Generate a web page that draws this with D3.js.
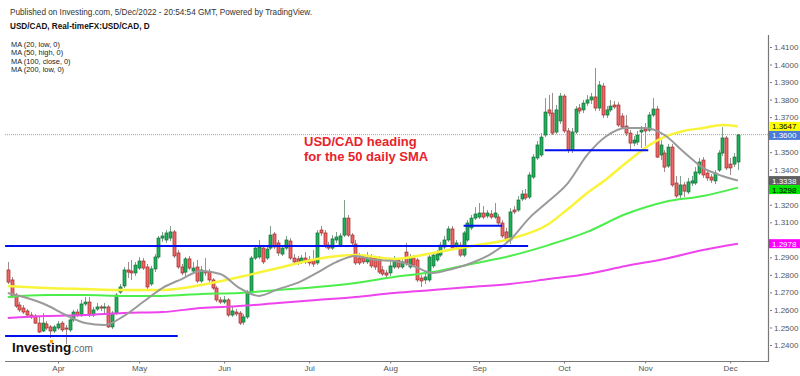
<!DOCTYPE html>
<html>
<head>
<meta charset="utf-8">
<script src="https://cdn.jsdelivr.net/npm/d3@7"></script>
<style>
  body { margin: 0; background: #fff; }
  svg { display: block; font-family: Arial, "Liberation Sans", sans-serif; }
</style>
</head>
<body>
<div id="chart"></div>
<script>
// Daily USD/CAD candles, 15 Mar 2022 .. 5 Dec 2022 (index 0 .. 189)
const opens = [
  1.2828,1.2771,1.2680,1.2628,1.2611,1.2594,1.2571,1.2565,1.2525,1.2480,
  1.2520,1.2503,1.2480,1.2497,1.2525,1.2497,1.2486,1.2543,1.2588,1.2571,
  1.2634,1.2645,1.2571,1.2605,1.2617,1.2611,1.2617,1.2503,1.2582,1.2702,
  1.2737,1.2828,1.2822,1.2811,1.2839,1.2879,1.2845,1.2748,1.2834,1.2902,
  1.3010,1.2999,1.3010,1.3045,1.2925,1.2845,1.2816,1.2891,1.2822,1.2845,
  1.2765,1.2822,1.2816,1.2771,1.2725,1.2657,1.2645,1.2657,1.2571,1.2588,
  1.2582,1.2531,1.2560,1.2697,1.2896,1.2902,1.2953,1.2896,1.2953,1.3033,
  1.2982,1.2919,1.2953,1.2993,1.2896,1.2891,1.2874,1.2896,1.2885,1.2885,
  1.2868,1.3056,1.3039,1.2970,1.2953,1.2999,1.2970,1.3027,1.3124,1.3027,
  1.2976,1.2896,1.2896,1.2874,1.2902,1.2896,1.2891,1.2828,1.2811,1.2811,
  1.2845,1.2885,1.2845,1.2930,1.2845,1.2896,1.2885,1.2782,1.2771,1.2771,
  1.2851,1.2885,1.2913,1.2959,1.2999,1.3062,1.2959,1.2970,1.2913,1.2999,
  1.3068,1.3124,1.3130,1.3153,1.3136,1.3147,1.3130,1.3130,1.3096,1.3045,
  1.2999,1.3170,1.3170,1.3233,1.3261,1.3244,1.3358,1.3467,1.3484,1.3598,
  1.3741,1.3723,1.3615,1.3678,1.3820,1.3621,1.3512,1.3615,1.3752,1.3741,
  1.3780,1.3798,1.3815,1.3752,1.3877,1.3712,1.3741,1.3769,1.3769,1.3706,
  1.3649,1.3609,1.3552,1.3558,1.3615,1.3632,1.3626,1.3712,1.3746,1.3484,
  1.3495,1.3421,1.3529,1.3324,1.3256,1.3313,1.3273,1.3324,1.3324,1.3381,
  1.3455,1.3381,1.3358,1.3336,1.3398,1.3495,1.3581,1.3432,1.3432,1.3444
];
const highs = [
  1.2874,1.2788,1.2697,1.2645,1.2628,1.2605,1.2588,1.2577,1.2565,1.2582,
  1.2537,1.2514,1.2514,1.2537,1.2537,1.2514,1.2554,1.2600,1.2605,1.2657,
  1.2674,1.2674,1.2617,1.2640,1.2628,1.2640,1.2628,1.2594,1.2697,1.2748,
  1.2845,1.2874,1.2885,1.2874,1.2902,1.2896,1.2862,1.2851,1.2919,1.3022,
  1.3045,1.3056,1.3079,1.3056,1.2942,1.2862,1.2902,1.2908,1.2874,1.2885,
  1.2851,1.2896,1.2834,1.2782,1.2737,1.2674,1.2680,1.2668,1.2622,1.2605,
  1.2594,1.2577,1.2714,1.2908,1.2970,1.2999,1.2970,1.2965,1.3079,1.3045,
  1.2999,1.2965,1.3022,1.3010,1.2919,1.2908,1.2913,1.2930,1.2908,1.2942,
  1.3056,1.3079,1.3056,1.2988,1.3027,1.3045,1.3039,1.3227,1.3142,1.3039,
  1.2999,1.2925,1.2913,1.2930,1.2919,1.2908,1.2908,1.2851,1.2828,1.2874,
  1.2908,1.2896,1.2896,1.2982,1.2919,1.2913,1.2896,1.2799,1.2811,1.2913,
  1.2930,1.2942,1.2988,1.3022,1.3079,1.3079,1.2999,1.2988,1.3050,1.3113,
  1.3142,1.3187,1.3210,1.3193,1.3170,1.3170,1.3210,1.3147,1.3113,1.3068,
  1.3181,1.3193,1.3250,1.3284,1.3290,1.3387,1.3489,1.3564,1.3609,1.3809,
  1.3826,1.3838,1.3769,1.3838,1.3832,1.3638,1.3638,1.3763,1.3775,1.3798,
  1.3826,1.3838,1.3980,1.3906,1.3895,1.3763,1.3798,1.3792,1.3786,1.3723,
  1.3712,1.3626,1.3592,1.3621,1.3649,1.3666,1.3729,1.3809,1.3763,1.3569,
  1.3512,1.3547,1.3547,1.3364,1.3364,1.3330,1.3353,1.3364,1.3415,1.3467,
  1.3472,1.3398,1.3375,1.3398,1.3512,1.3643,1.3592,1.3467,1.3495,1.3604
];
const lows = [
  1.2748,1.2668,1.2611,1.2588,1.2577,1.2560,1.2548,1.2520,1.2468,1.2474,
  1.2486,1.2440,1.2468,1.2486,1.2474,1.2406,1.2474,1.2531,1.2560,1.2560,
  1.2622,1.2560,1.2560,1.2594,1.2594,1.2577,1.2497,1.2491,1.2571,1.2691,
  1.2725,1.2782,1.2771,1.2794,1.2828,1.2828,1.2719,1.2737,1.2816,1.2891,
  1.2988,1.2982,1.2993,1.2896,1.2834,1.2799,1.2794,1.2828,1.2811,1.2754,
  1.2754,1.2794,1.2754,1.2714,1.2645,1.2634,1.2634,1.2560,1.2560,1.2565,
  1.2514,1.2514,1.2548,1.2685,1.2885,1.2891,1.2862,1.2885,1.2942,1.2947,
  1.2908,1.2908,1.2942,1.2885,1.2862,1.2856,1.2862,1.2862,1.2851,1.2845,
  1.2856,1.3022,1.2953,1.2942,1.2942,1.2982,1.2959,1.3016,1.3016,1.2970,
  1.2856,1.2856,1.2862,1.2862,1.2839,1.2828,1.2805,1.2794,1.2782,1.2794,
  1.2834,1.2834,1.2834,1.2851,1.2834,1.2845,1.2759,1.2731,1.2748,1.2759,
  1.2839,1.2874,1.2902,1.2947,1.2988,1.2942,1.2942,1.2902,1.2902,1.2988,
  1.3056,1.3113,1.3119,1.3119,1.3124,1.3119,1.3119,1.3085,1.3010,1.2988,
  1.2976,1.3147,1.3159,1.3221,1.3227,1.3233,1.3347,1.3455,1.3472,1.3586,
  1.3706,1.3598,1.3604,1.3661,1.3609,1.3495,1.3495,1.3604,1.3718,1.3723,
  1.3763,1.3775,1.3735,1.3735,1.3695,1.3695,1.3729,1.3746,1.3643,1.3632,
  1.3592,1.3512,1.3535,1.3541,1.3524,1.3535,1.3615,1.3701,1.3467,1.3455,
  1.3387,1.3410,1.3301,1.3239,1.3233,1.3244,1.3261,1.3307,1.3313,1.3370,
  1.3353,1.3336,1.3324,1.3318,1.3387,1.3478,1.3398,1.3370,1.3415,1.3398
];
const closes = [
  1.2759,1.2674,1.2622,1.2600,1.2588,1.2571,1.2560,1.2525,1.2474,1.2525,
  1.2497,1.2480,1.2503,1.2520,1.2486,1.2491,1.2543,1.2588,1.2571,1.2634,
  1.2645,1.2571,1.2600,1.2617,1.2611,1.2617,1.2503,1.2582,1.2685,1.2731,
  1.2828,1.2816,1.2811,1.2856,1.2879,1.2839,1.2731,1.2834,1.2902,1.3010,
  1.3022,1.3039,1.3045,1.2908,1.2845,1.2811,1.2891,1.2839,1.2839,1.2765,
  1.2828,1.2811,1.2771,1.2725,1.2657,1.2645,1.2657,1.2571,1.2594,1.2577,
  1.2525,1.2560,1.2702,1.2896,1.2953,1.2959,1.2874,1.2947,1.3027,1.2959,
  1.2925,1.2953,1.2999,1.2896,1.2874,1.2868,1.2896,1.2874,1.2868,1.2862,
  1.3039,1.3039,1.2965,1.2953,1.3005,1.3016,1.3022,1.3124,1.3027,1.2982,
  1.2868,1.2868,1.2874,1.2896,1.2851,1.2845,1.2816,1.2805,1.2799,1.2851,
  1.2885,1.2845,1.2874,1.2868,1.2902,1.2856,1.2771,1.2765,1.2788,1.2902,
  1.2913,1.2919,1.2970,1.2999,1.3062,1.2953,1.2982,1.2913,1.3039,1.3096,
  1.3124,1.3147,1.3153,1.3130,1.3153,1.3130,1.3153,1.3096,1.3022,1.2999,
  1.3159,1.3159,1.3227,1.3261,1.3239,1.3370,1.3472,1.3541,1.3586,1.3729,
  1.3723,1.3609,1.3741,1.3820,1.3621,1.3512,1.3615,1.3746,1.3735,1.3780,
  1.3798,1.3815,1.3752,1.3883,1.3712,1.3741,1.3763,1.3758,1.3655,1.3643,
  1.3609,1.3552,1.3569,1.3598,1.3626,1.3621,1.3712,1.3746,1.3472,1.3541,
  1.3415,1.3529,1.3313,1.3250,1.3313,1.3278,1.3330,1.3336,1.3387,1.3444,
  1.3370,1.3353,1.3341,1.3381,1.3495,1.3581,1.3410,1.3410,1.3472,1.3598
];

// month labels and the candle index of each month's first session
const monthLabels = ["Apr", "May", "Jun", "Jul", "Aug", "Sep", "Oct", "Nov", "Dec"];
const monthIdx = [13, 34, 56, 78, 99, 122, 144, 165, 187];

// moving averages (candle index -> value)
const ma20Idx = [0,5,10,15,20,25,30,35,40,45,50,55,60,65,70,75,80,85,90,95,100,105,110,115,120,125,130,135,140,145,150,155,160,165,170,175,180,185,189];
const ma20Val = [1.2697,1.2668,1.2628,1.2571,1.2525,1.2514,1.2565,1.2645,1.2725,1.2776,1.2822,1.2805,1.2725,1.2680,1.2719,1.2754,1.2811,1.2873,1.2908,1.2885,1.2879,1.2851,1.2811,1.2834,1.2868,1.2919,1.2999,1.3124,1.3221,1.3324,1.3484,1.3592,1.3638,1.3638,1.3598,1.3501,1.3410,1.3364,1.3338];
const ma50Idx = [0,10,20,30,40,50,60,70,80,90,100,110,120,130,140,145,150,155,160,165,170,175,180,185,189];
const ma50Val = [1.2737,1.2725,1.2719,1.2714,1.2714,1.2742,1.2788,1.2839,1.2891,1.2913,1.2891,1.2925,1.2965,1.3005,1.3090,1.3176,1.3267,1.3347,1.3438,1.3524,1.3587,1.3621,1.3638,1.3655,1.3647];
const maLongIdx = [0,10,20,30,40,50,60,70,80,90,100,110,120,130,140,150,160,170,180,189];
const ma100Val = [1.2674,1.2685,1.2685,1.2680,1.2680,1.2691,1.2697,1.2714,1.2731,1.2754,1.2788,1.2816,1.2862,1.2908,1.2970,1.3045,1.3147,1.3216,1.3250,1.3298];
const ma200Val = [1.2554,1.2565,1.2571,1.2583,1.2588,1.2611,1.2622,1.2640,1.2657,1.2674,1.2697,1.2714,1.2731,1.2748,1.2776,1.2805,1.2851,1.2891,1.2942,1.2978];

// hand-drawn support / resistance levels (price, from index, to index)
const levelPrice = [1.2451, 1.2965, 1.3080, 1.3511];
const levelFrom = [-0.7, -0.7, 118, 139];
const levelTo = [44, 134.7, 128, 165.8];

// price axis ticks and last values (MA50, price, MA20, MA100, MA200)
const yTicks = d3.range(18).map(k => 1.24 + k * 0.01);
const lastValues = [1.3647, 1.3600, 1.3338, 1.3298, 1.2978];

const width = 800, height = 376;
const svg = d3.select("#chart").append("svg")
    .attr("width", width)
    .attr("height", height);

svg.append("rect").attr("width", width).attr("height", height).attr("fill", "#fff");

const x = d3.scaleLinear().domain([-0.725, 196.8]).range([5, 768]);
const y = d3.scaleLinear().domain([1.24, 1.41]).range([345, 47]);

svg.append("clipPath").attr("id", "plot")
  .append("rect").attr("x", 5).attr("y", 35).attr("width", 763).attr("height", 326);

const plot = svg.append("g").attr("clip-path", "url(#plot)");

// dotted last-price line
plot.append("line")
    .attr("x1", 5).attr("x2", 768)
    .attr("y1", y(1.36)).attr("y2", y(1.36))
    .attr("stroke", "#8aa4d8")
    .attr("stroke-width", 1)
    .attr("stroke-dasharray", "1,1");

// candles
const candles = d3.range(opens.length).map(i => ({
  i, o: opens[i], h: highs[i], l: lows[i], c: closes[i]
}));

const cg = plot.append("g");
cg.selectAll("line.wick")
  .data(candles)
  .enter().append("line")
    .attr("class", "wick")
    .attr("x1", d => Math.round(x(d.i)) + 0.5)
    .attr("x2", d => Math.round(x(d.i)) + 0.5)
    .attr("y1", d => y(d.h))
    .attr("y2", d => y(d.l))
    .attr("stroke", d => d.c >= d.o ? "#7f9e8c" : "#a08c8c")
    .attr("stroke-width", 1);

cg.selectAll("rect.body")
  .data(candles)
  .enter().append("rect")
    .attr("class", "body")
    .attr("x", d => Math.round(x(d.i)) - 1)
    .attr("width", 3)
    .attr("y", d => y(Math.max(d.o, d.c)))
    .attr("height", d => Math.max(1, y(Math.min(d.o, d.c)) - y(Math.max(d.o, d.c))))
    .attr("fill", d => d.c >= d.o ? "#1fb05a" : "#ef6666")
    .attr("stroke", d => d.c >= d.o ? "#156b38" : "#9c2a2a")
    .attr("stroke-width", 0.7);

// moving averages
const line = d3.line().curve(d3.curveMonotoneX);
function drawMA(idx, vals, color, w) {
  plot.append("path")
      .attr("d", line(idx.map((k, j) => [x(k), y(vals[j])])))
      .attr("fill", "none")
      .attr("stroke", color)
      .attr("stroke-width", w);
}
drawMA(maLongIdx, ma200Val, "#ee44ee", 2);
drawMA(maLongIdx, ma100Val, "#4cee4c", 2);
drawMA(ma50Idx, ma50Val, "#f8f43a", 2.5);
drawMA(ma20Idx, ma20Val, "#9a9a9a", 2);

// blue levels
levelPrice.forEach((p, k) => {
  plot.append("line")
      .attr("x1", x(levelFrom[k])).attr("x2", x(levelTo[k]))
      .attr("y1", y(p)).attr("y2", y(p))
      .attr("stroke", "#0010ee")
      .attr("stroke-width", 2);
});

// axes frame
svg.append("line").attr("x1", 768.5).attr("x2", 768.5).attr("y1", 35).attr("y2", 361.5)
   .attr("stroke", "#777").attr("stroke-width", 1.2);
svg.append("line").attr("x1", 5).attr("x2", 769).attr("y1", 361.5).attr("y2", 361.5)
   .attr("stroke", "#777").attr("stroke-width", 1.2);

// last-value label positions, stacked so boxes don't collide
const boxH = 9;
const labelY = [];
lastValues.forEach((v, k) => {
  let cy = y(v);
  if (k > 0 && cy - labelY[k - 1] < boxH) cy = labelY[k - 1] + boxH;
  labelY.push(cy);
});

// price axis (tick labels hidden where a last-value box covers them)
const hidden = v => labelY.some(cy => Math.abs(cy - y(v)) < 8.5);
const yAxis = svg.append("g")
    .attr("transform", "translate(770,0)")
    .call(d3.axisRight(y).tickValues(yTicks).tickSize(2).tickPadding(2).tickFormat(d3.format(".4f")));
yAxis.select(".domain").remove();
yAxis.selectAll("line").attr("stroke", "#777");
yAxis.selectAll("text").attr("fill", "#555").style("font-size", "8px").style("font-family", "Arial, 'Liberation Sans', sans-serif");
yAxis.selectAll(".tick").filter(d => hidden(d)).select("text").remove();

// last-value labels
const labelBg = ["#ffff00", "#4a7bd8", "#5f5f5f", "#00e600", "#ff00ff"];
const labelFg = ["#000", "#fff", "#fff", "#000", "#fff"];
const lab = svg.append("g");
lastValues.forEach((v, k) => {
  lab.append("rect")
      .attr("x", 769).attr("y", labelY[k] - boxH / 2)
      .attr("width", 31).attr("height", boxH)
      .attr("fill", labelBg[k]);
  lab.append("text")
      .attr("x", 772).attr("y", labelY[k] + 3)
      .attr("fill", labelFg[k])
      .style("font-size", "8px")
      .text(d3.format(".4f")(v));
});

// time axis
const xAxis = svg.append("g")
    .attr("transform", "translate(0,361.5)")
    .call(d3.axisBottom(x).tickValues(monthIdx).tickSize(2).tickPadding(2)
      .tickFormat((d, k) => monthLabels[k]));
xAxis.select(".domain").remove();
xAxis.selectAll("line").attr("stroke", "#777");
xAxis.selectAll("text").attr("fill", "#555").style("font-size", "8px").style("font-family", "Arial, 'Liberation Sans', sans-serif");

// header texts
svg.append("text").attr("x", 10).attr("y", 14.5)
   .attr("fill", "#333").style("font-size", "8.2px")
   .text("Published on Investing.com, 5/Dec/2022 - 20:54:54 GMT, Powered by TradingView.");
svg.append("text").attr("x", 10).attr("y", 28.5)
   .attr("fill", "#111").style("font-size", "8.2px").style("font-weight", "bold")
   .text("USD/CAD, Real-timeFX:USD/CAD, D");
["MA (20, low, 0)", "MA (50, high, 0)", "MA (100, close, 0)", "MA (200, low, 0)"].forEach((t, k) => {
  svg.append("text").attr("x", 11).attr("y", 47 + k * 8.4)
     .attr("fill", "#222").style("font-size", "7.4px").text(t);
});

// annotation
const note = svg.append("g").attr("fill", "#e8232b").style("font-size", "13px").style("font-weight", "bold");
note.append("text").attr("x", 304).attr("y", 146).text("USD/CAD heading");
note.append("text").attr("x", 304).attr("y", 161).text("for the 50 daily SMA");

// logo
const logo = svg.append("text").attr("x", 12).attr("y", 352);
logo.append("tspan").attr("fill", "#111").style("font-size", "13.5px").style("font-weight", "bold").text("Investing");
logo.append("tspan").attr("fill", "#666").style("font-size", "10px").text(".com");
svg.append("rect").attr("x", 50).attr("y", 340).attr("width", 3).attr("height", 3).attr("fill", "#f7a21b");
</script>
</body>
</html>
